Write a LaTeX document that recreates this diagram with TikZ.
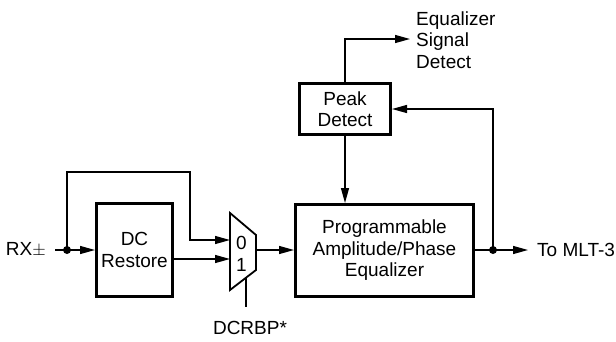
\documentclass[tikz,border=0pt]{standalone}
\usepackage{fontspec}
\setmainfont{Liberation Sans}
\usetikzlibrary{arrows.meta}
\begin{document}
\begin{tikzpicture}[x=1pt,y=-1pt,
  every node/.style={font=\fontsize{19}{21.5}\selectfont, inner sep=0pt},
  blk/.style={draw, line width=3pt, align=center},
  wire/.style={line width=1.3pt},
  sig/.style={wire, -{Triangle[length=15pt,width=8pt]}},
  junction/.style={circle, fill, minimum size=8pt, inner sep=0pt},
  lbl/.style={align=left}]
\useasboundingbox (0,0) rectangle (616,341);

% processing blocks
\node[blk, minimum width=76pt, minimum height=93pt] (dc) at (134.5,250) {DC\\Restore};
\node[blk, minimum width=178pt, minimum height=92pt] (eq) at (384.5,250.5)
  {Programmable\\Amplitude/Phase\\Equalizer};
\node[blk, minimum width=91pt, minimum height=51pt] (pk) at (345,109) {Peak\\Detect};

% bypass multiplexer
\coordinate (m0) at (230,240);
\coordinate (m1) at (230,259);
\coordinate (mo) at (256,250);
\coordinate (msel) at (246,277.7);
\draw[line width=1.8pt, line join=miter] (230,213) -- (256,235) -- (256,270) -- (230,290) -- cycle;
\node (z0) at (241.5,243) {0};
\node (z1) at (241.5,265) {1};
\coordinate (selend) at (246,307);
\draw[wire] (msel) -- (selend);
\node (dcrbp) at (250,328) {DCRBP*};

% input side
\node[anchor=east] (rx) at (46,250) {RX$\pm$};
\coordinate (rxs) at (55,250);
\node[junction] (j1) at (67,250) {};
\draw[sig] (rxs) -- (dc.west);
\draw[sig] (j1.center) |- (190,172) |- (m0);
\draw[sig] (dc.east |- m1) -- (m1);
\draw[sig] (mo) -- (eq.west |- mo);

% output side
\node[junction] (j2) at (493,250) {};
\node[anchor=west] (mlt) at (537,250) {To MLT-3};
\coordinate (mltin) at (528,250);
\draw[sig] (eq.east |- j2) -- (mltin);
\draw[sig] (j2.center) |- (pk.east);

% peak detector connections
\node[lbl, anchor=west] (esd) at (416,40) {Equalizer\\Signal\\Detect};
\coordinate (esdin) at (410,39);
\draw[sig] (pk.north) |- (esdin);
\draw[sig] (pk.south) -- (pk.south |- eq.north);
\end{tikzpicture}
\end{document}
